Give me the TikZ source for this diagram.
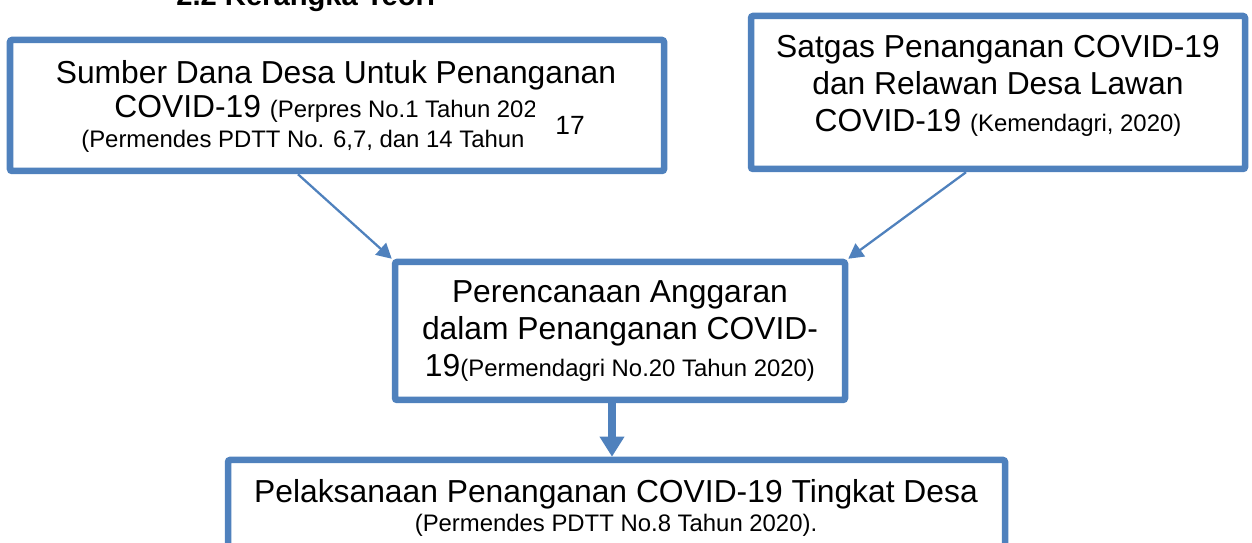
\documentclass[tikz,border=0pt]{standalone}
\usepackage{fontspec}
\setmainfont{Liberation Sans}
\usetikzlibrary{arrows.meta}
\definecolor{boxblue}{RGB}{79,129,189}
\newcommand{\txtL}{\fontsize{18.1}{21}\selectfont}
\newcommand{\txtS}{\fontsize{13.6}{16}\selectfont}
\begin{document}
\begin{tikzpicture}[x=0.02cm,y=-0.02cm,
  frame/.style={draw=boxblue,line width=3.7pt,rounded corners=1.2pt,fill=white,inner sep=0pt},
  line/.style={anchor=base,inner sep=0pt,font=\txtL},
  thinarrow/.style={draw=boxblue,line width=1.3pt,-{Triangle[length=8.5pt,width=9pt]}},
  thickarrow/.style={draw=boxblue,line width=4.5pt,-{Triangle[length=11.5pt,width=13.5pt]}}]
\useasboundingbox (0,0) rectangle (1252,543);
\clip (0,0) rectangle (1252,543);
% title (cut at top of page)
\node[anchor=base west,inner sep=0pt,font=\fontsize{16.6}{19}\selectfont\bfseries] (title) at (176,6) {2.2 Kerangka Teori};
% boxes
\node[frame,minimum width=654*0.02cm,minimum height=131*0.02cm] (box1) at (337,105.5) {};
\node[frame,minimum width=494*0.02cm,minimum height=153*0.02cm] (box2) at (998,92.5) {};
\node[frame,minimum width=450*0.02cm,minimum height=138*0.02cm] (box3) at (620,331) {};
\node[frame,minimum width=777*0.02cm,minimum height=150*0.02cm] (box4) at (616.5,535) {};
% box 1 text
\node[line] (b1l1) at (336,84) {Sumber Dana Desa Untuk Penanganan};
\begin{scope}
\clip (0,90) rectangle (534,165);
\node[line,anchor=base west] (b1l2) at (114,118) {COVID-19 {\txtS(Perpres No.1 Tahun 202}};
\end{scope}
\node[line,anchor=base west,font=\txtS] (b1l3) at (81,148) {(Permendes PDTT No. 6,7, dan 14 Tahun};
\node[anchor=base west,inner sep=0pt,font=\fontsize{15}{17}\selectfont] (page) at (555,135) {17};
% box 2 text
\node[line] (b2l1) at (998,58) {Satgas Penanganan COVID-19};
\node[line] (b2l2) at (998,95) {dan Relawan Desa Lawan};
\node[line] (b2l3) at (998,132) {COVID-19 {\txtS(Kemendagri, 2020)}};
% box 3 text
\node[line] (b3l1) at (620,303) {Perencanaan Anggaran};
\node[line] (b3l2) at (620,340) {dalam Penanganan COVID-};
\node[line] (b3l3) at (620,377) {19{\txtS(Permendagri No.20 Tahun 2020)}};
% box 4 text
\node[line] (b4l1) at (616,503) {Pelaksanaan Penanganan COVID-19 Tingkat Desa};
\node[line,font=\txtS] (b4l2) at (616,532) {(Permendes PDTT No.8 Tahun 2020).};
% connectors
\coordinate (x1) at (298,0);
\coordinate (x2) at (966,0);
\coordinate (x3) at (612,0);
\draw[thinarrow] (box1.south -| x1) -- (box3.north west);
\draw[thinarrow] (box2.south -| x2) -- (box3.north east);
\draw[thickarrow] (box3.south -| x3) -- (box4.north -| x3);
\end{tikzpicture}
\end{document}
